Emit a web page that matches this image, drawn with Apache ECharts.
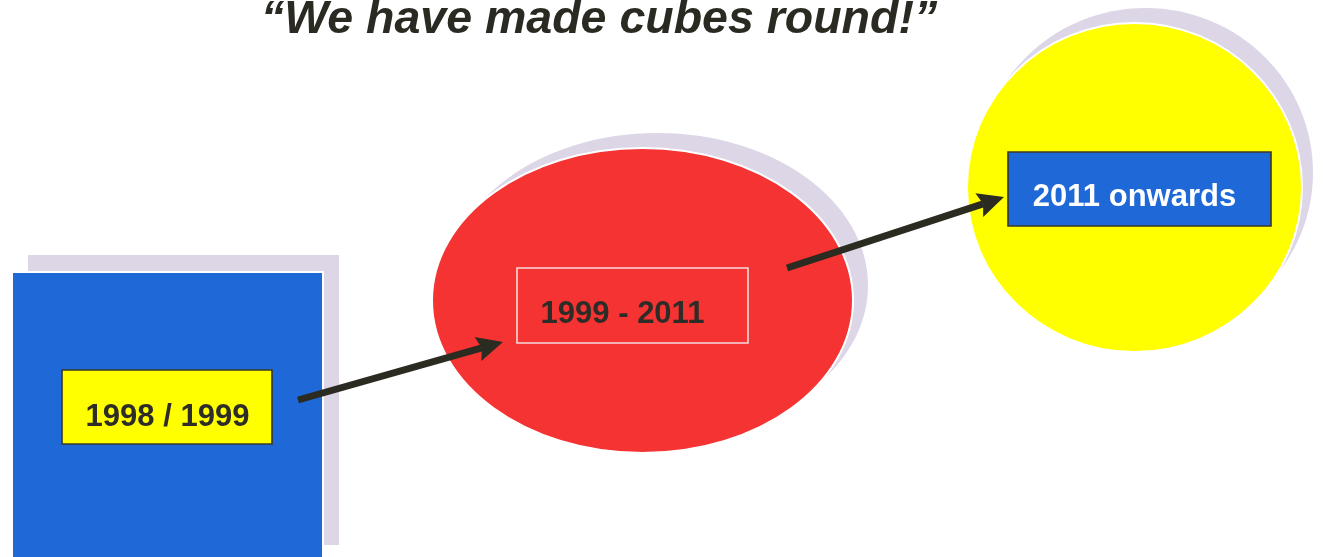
<!DOCTYPE html>
<html><head><meta charset="utf-8">
<script src="https://cdn.jsdelivr.net/npm/echarts@6/dist/echarts.min.js"></script>
<style>html,body{margin:0;padding:0;background:#fff}#c{width:1326px;height:557px}</style>
</head><body><div id="c"></div>
<script>
// ---------- data (diagram units on hidden value axes) ----------
const titleText = '\u201CWe have made cubes round!\u201D';
const eraShapes = ['square', 'ellipse', 'circle'];
const eraX = [167.5, 642.5, 1134.5];
const eraY = [417, 300.5, 187.5];
const eraW = [311, 421, 335];
const eraH = [290, 305, 329];
const periodLabels = ['1998 / 1999', '1999 - 2011', '2011 onwards'];
const boxX = [167, 632.5, 1139.5];
const boxY = [407, 305.5, 189];
const boxW = [210, 231, 263];
const boxH = [74, 75, 74];
const arrowFrom = [[298, 400], [787, 268]];
const arrowTo = [[503, 342], [1004, 197]];

// ---------- styles ----------
const shapeFill = ['#1f68d8', '#f53333', '#ffff00'];
const shadowFill = '#dcd6e7';
const shadowOffset = [[16, -17], [15, -15], [11, -15]];
const boxFill = ['#ffff00', 'transparent', '#1f68d8'];
const boxStroke = ['#3a3828', '#f6dade', '#3a3828'];
const textFill = ['#2e2c26', '#2e2c26', '#ffffff'];
const textOffset = [[0.5, 10], [-10, 9], [-5, 8]];
const arrowColor = '#2c2b22';

const shapeData = eraShapes.map((s, i) => [eraX[i], eraY[i], eraW[i], eraH[i], i]);
const boxData = periodLabels.map((s, i) => [boxX[i], boxY[i], boxW[i], boxH[i], i]);
const arrowData = arrowFrom.map((f, i) => [f[0], f[1], arrowTo[i][0], arrowTo[i][1]]);

function shapeEl(kind, c, sz, fill, stroke) {
  if (kind === 'square') {
    return { type: 'rect', shape: { x: c[0] - sz[0] / 2, y: c[1] - sz[1] / 2, width: sz[0], height: sz[1] },
      style: { fill: fill, stroke: stroke, lineWidth: stroke ? 2 : 0 } };
  }
  return { type: 'ellipse', shape: { cx: c[0], cy: c[1], rx: sz[0] / 2, ry: sz[1] / 2 },
    style: { fill: fill, stroke: stroke, lineWidth: stroke ? 2 : 0 } };
}

const chart = echarts.init(document.getElementById('c'), null, { renderer: 'canvas' });
chart.setOption({
  animation: false,
  backgroundColor: '#ffffff',
  title: {
    text: titleText, left: 256, top: -8,
    textStyle: { fontFamily: 'Liberation Sans, Arial, sans-serif', fontStyle: 'italic', fontWeight: 'bold', fontSize: 46.5, color: '#2a2a22' }
  },
  grid: { left: 0, right: 0, top: 0, bottom: 0 },
  xAxis: { type: 'value', min: 0, max: 1326, show: false },
  yAxis: { type: 'value', min: 0, max: 557, inverse: true, show: false },
  series: [
    { // shadows
      type: 'custom', coordinateSystem: 'cartesian2d', data: shapeData, clip: false, z: 1,
      renderItem: function (params, api) {
        const i = api.value(4);
        const c = api.coord([api.value(0), api.value(1)]);
        const sz = api.size([api.value(2), api.value(3)]);
        return shapeEl(eraShapes[i], [c[0] + shadowOffset[i][0], c[1] + shadowOffset[i][1]], sz, shadowFill, null);
      }
    },
    { // shapes
      type: 'custom', coordinateSystem: 'cartesian2d', data: shapeData, clip: false, z: 2,
      renderItem: function (params, api) {
        const i = api.value(4);
        const c = api.coord([api.value(0), api.value(1)]);
        const sz = api.size([api.value(2), api.value(3)]);
        return shapeEl(eraShapes[i], c, sz, shapeFill[i], '#ffffff');
      }
    },
    { // period boxes with labels
      type: 'custom', coordinateSystem: 'cartesian2d', data: boxData, clip: false, z: 3,
      renderItem: function (params, api) {
        const i = api.value(4);
        const c = api.coord([api.value(0), api.value(1)]);
        const sz = api.size([api.value(2), api.value(3)]);
        return {
          type: 'group',
          children: [
            { type: 'rect', shape: { x: c[0] - sz[0] / 2, y: c[1] - sz[1] / 2, width: sz[0], height: sz[1] },
              style: { fill: boxFill[i], stroke: boxStroke[i], lineWidth: 1.6 } },
            { type: 'text', style: { text: periodLabels[i], x: c[0] + textOffset[i][0], y: c[1] + textOffset[i][1],
              align: 'center', verticalAlign: 'middle', fill: textFill[i],
              fontFamily: 'Liberation Sans, Arial, sans-serif', fontWeight: 'bold', fontSize: 31 } }
          ]
        };
      }
    },
    { // arrows
      type: 'custom', coordinateSystem: 'cartesian2d', data: arrowData, clip: false, z: 4,
      renderItem: function (params, api) {
        const a = api.coord([api.value(0), api.value(1)]);
        const b = api.coord([api.value(2), api.value(3)]);
        const dx = b[0] - a[0], dy = b[1] - a[1];
        const len = Math.sqrt(dx * dx + dy * dy);
        const ux = dx / len, uy = dy / len, px = -uy, py = ux;
        const headLen = 26, headHalf = 12.5;
        const base = [b[0] - ux * headLen, b[1] - uy * headLen];
        const notch = [b[0] - ux * (headLen - 4), b[1] - uy * (headLen - 4)];
        return {
          type: 'group',
          children: [
            { type: 'line', shape: { x1: a[0], y1: a[1], x2: notch[0], y2: notch[1] },
              style: { stroke: arrowColor, lineWidth: 7, lineCap: 'butt' } },
            { type: 'polygon', shape: { points: [b,
                [base[0] + px * headHalf, base[1] + py * headHalf], notch,
                [base[0] - px * headHalf, base[1] - py * headHalf]] },
              style: { fill: arrowColor } }
          ]
        };
      }
    }
  ]
});
</script>
</body></html>
